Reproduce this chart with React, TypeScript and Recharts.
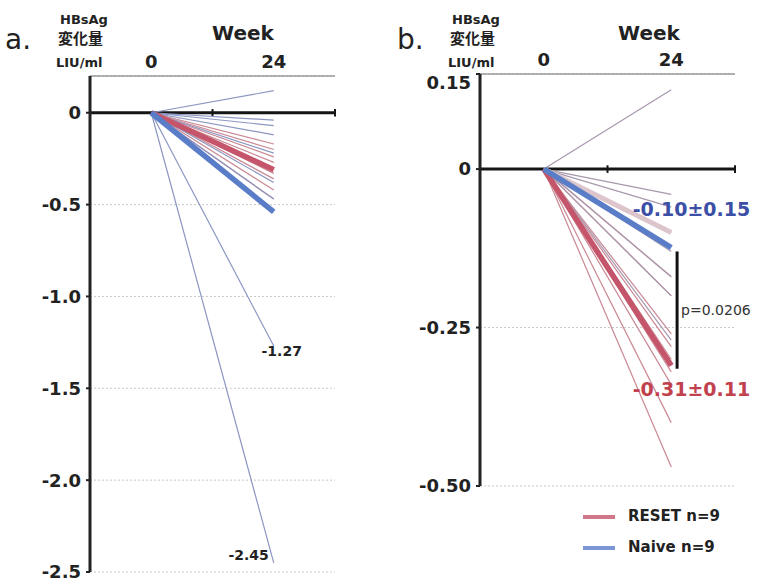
import React from "react";
import {
  LineChart,
  Line,
  XAxis,
  YAxis,
  CartesianGrid,
  ReferenceLine,
  ReferenceDot,
} from "recharts";

// weeks shown on the x axis, change from baseline is 0 at week 0
const weeks = [0, 24];
const baseline = 0;

// panel a: change at week 24 per patient
const aResetEnd = [-0.17, -0.2, -0.24, -0.27, -0.3, -0.33, -0.36, -0.42, -0.47];
const aNaiveEnd = [0.12, -0.04, -0.07, -0.12, -0.22, -0.38, -0.47, -1.27, -2.45];
const aMeanEnd = [-0.31, -0.54]; // RESET, Naive

// panel b
const bResetEnd = [-0.17, -0.2, -0.26, -0.28, -0.3, -0.32, -0.34, -0.4, -0.47];
const bNaiveEnd = [0.125, -0.04, -0.06, -0.1, -0.13, -0.17, -0.2, -0.27, -0.31];
const bMeanEnd = [-0.31, -0.124]; // RESET, Naive
const bShadowEnd = [-0.1];

const aTicks = [0, -0.5, -1.0, -1.5, -2.0, -2.5];
const bTicks = [0.15, 0, -0.25, -0.5];
const weekTicks = [0, 24];
const legendNames = ["RESET n=9", "Naive n=9"];

const FONT = "'DejaVu Sans', sans-serif";
const RED_THIN = "#c98893";
const BLUE_THIN = "#8b96c2";
const GREY_THIN = "#a898ae";
const RED_MEAN = "#c4556a";
const BLUE_MEAN = "#5a7dc8";
const SHADOW = "#dcc6cb";

type Spec = { key: string; color: string; width: number; end: number };

const makeSpecs = (
  reset: number[],
  naive: number[],
  means: number[],
  naiveColor: string,
  shadow: number[] = []
): Spec[] => [
  ...reset.map((v, i) => ({ key: `r${i}`, color: RED_THIN, width: 1.2, end: v })),
  ...naive.map((v, i) => ({ key: `n${i}`, color: naiveColor, width: 1.2, end: v })),
  ...shadow.map((v, i) => ({ key: `s${i}`, color: SHADOW, width: 5, end: v })),
  { key: "mr", color: RED_MEAN, width: 5.5, end: means[0] },
  { key: "mn", color: BLUE_MEAN, width: 5.5, end: means[1] },
];

const makeRows = (specs: Spec[]) =>
  weeks.map((w, i) => {
    const row: Record<string, number> = { week: w };
    specs.forEach((s) => {
      row[s.key] = i === 0 ? baseline : s.end;
    });
    return row;
  });

const aSpecs = makeSpecs(aResetEnd, aNaiveEnd, aMeanEnd, BLUE_THIN);
const bSpecs = makeSpecs(bResetEnd, bNaiveEnd, bMeanEnd, GREY_THIN, bShadowEnd);
const aRows = makeRows(aSpecs);
const bRows = makeRows(bSpecs);

const tickStyle = { fontSize: 18, fontWeight: 700, fill: "#222", fontFamily: FONT };

// y tick for panel b: the top label sits just under the top rule
const BTick = (props: any) => {
  const { x, y, payload } = props;
  const v = payload.value as number;
  const label = v === 0 ? "0" : v.toFixed(2);
  return (
    <text
      x={x}
      y={y + (v === bTicks[0] ? 9 : 0)}
      dy="0.355em"
      textAnchor="end"
      {...tickStyle}
    >
      {label}
    </text>
  );
};

const txt = (extra: React.CSSProperties): React.CSSProperties => ({
  position: "absolute",
  fontFamily: FONT,
  color: "#222",
  whiteSpace: "nowrap",
  lineHeight: 1,
  ...extra,
});

const Header = ({ left, letter }: { left: number; letter: string }) => (
  <>
    <div style={txt({ left: left + 5, top: 26, fontSize: 28 })}>{letter}</div>
    <div style={txt({ left: left + 60, top: 13, fontSize: 13, fontWeight: 700 })}>HBsAg</div>
    <div
      style={txt({
        left: left + 58,
        top: 30,
        fontSize: 15,
        fontWeight: 700,
        fontFamily: "'Noto Sans CJK JP', sans-serif",
      })}
    >
      変化量
    </div>
    <div style={txt({ left: left + 56, top: 56, fontSize: 13, fontWeight: 700 })}>LIU/ml</div>
  </>
);

const App = () => {
  return (
    <div
      style={{
        position: "absolute",
        left: 0,
        top: 0,
        width: 757,
        height: 581,
        background: "#fff",
        overflow: "hidden",
      }}
    >
      {/* panel a */}
      <div style={{ position: "absolute", left: 0, top: 0 }}>
        <LineChart
          width={380}
          height={581}
          data={aRows}
          margin={{ top: 46, right: 45, left: 0, bottom: 9 }}
        >
          <CartesianGrid vertical={false} stroke="#c8c8c8" strokeDasharray="2 2" />
          <XAxis
            dataKey="week"
            type="number"
            orientation="top"
            domain={[-12, 36]}
            ticks={weekTicks}
            height={30}
            tickLine={false}
            axisLine={{ stroke: "#9a9a9a", strokeWidth: 1.5 }}
            tick={tickStyle}
            allowDataOverflow
          />
          <YAxis
            type="number"
            width={90}
            domain={[-2.5, 0.2]}
            ticks={aTicks}
            interval={0}
            tickSize={4}
            tickMargin={5}
            tickFormatter={(v: number) => (v === 0 ? "0" : v.toFixed(1))}
            axisLine={{ stroke: "#222", strokeWidth: 3 }}
            tickLine={{ stroke: "#222", strokeWidth: 2 }}
            tick={tickStyle}
            allowDataOverflow
          />
          <ReferenceLine y={0} stroke="#151515" strokeWidth={3} />
          <ReferenceLine
            segment={[{ x: 12, y: 0.02 }, { x: 12, y: -0.02 }]}
            stroke="#151515"
            strokeWidth={2}
          />
          <ReferenceLine
            segment={[{ x: 36, y: 0.02 }, { x: 36, y: -0.02 }]}
            stroke="#151515"
            strokeWidth={2}
          />
          {aSpecs.map((s) => (
            <Line
              key={s.key}
              dataKey={s.key}
              type="linear"
              stroke={s.color}
              strokeWidth={s.width}
              dot={false}
              activeDot={false}
              isAnimationActive={false}
            />
          ))}
          <ReferenceDot
            x={24}
            y={aNaiveEnd[7]}
            r={0}
            label={{
              value: aNaiveEnd[7].toFixed(2),
              position: "bottom",
              offset: 0,
              dx: 8,
              fontSize: 14,
              fontWeight: 700,
              fill: "#222",
              fontFamily: FONT,
            }}
          />
          <ReferenceDot
            x={24}
            y={aNaiveEnd[8]}
            r={0}
            label={{
              value: aNaiveEnd[8].toFixed(2),
              position: "left",
              offset: 5,
              dy: -8,
              fontSize: 14,
              fontWeight: 700,
              fill: "#222",
              fontFamily: FONT,
            }}
          />
        </LineChart>
      </div>

      {/* panel b */}
      <div style={{ position: "absolute", left: 390, top: 0 }}>
        <LineChart
          width={367}
          height={581}
          data={bRows}
          margin={{ top: 44, right: 22, left: 0, bottom: 95 }}
        >
          <CartesianGrid vertical={false} stroke="#c8c8c8" strokeDasharray="2 2" />
          <XAxis
            dataKey="week"
            type="number"
            orientation="top"
            domain={[-12, 36]}
            ticks={weekTicks}
            height={30}
            tickLine={false}
            axisLine={{ stroke: "#9a9a9a", strokeWidth: 1.5 }}
            tick={tickStyle}
            allowDataOverflow
          />
          <YAxis
            type="number"
            width={90}
            domain={[-0.5, 0.15]}
            ticks={bTicks}
            interval={0}
            tickSize={4}
            tickMargin={5}
            axisLine={{ stroke: "#222", strokeWidth: 3 }}
            tickLine={{ stroke: "#222", strokeWidth: 2 }}
            tick={<BTick />}
            allowDataOverflow
          />
          <ReferenceLine y={0} stroke="#151515" strokeWidth={3} />
          <ReferenceLine
            segment={[{ x: 12, y: 0.006 }, { x: 12, y: -0.006 }]}
            stroke="#151515"
            strokeWidth={2}
          />
          <ReferenceLine
            segment={[{ x: 36, y: 0.006 }, { x: 36, y: -0.006 }]}
            stroke="#151515"
            strokeWidth={2}
          />
          {bSpecs.map((s) => (
            <Line
              key={s.key}
              dataKey={s.key}
              type="linear"
              stroke={s.color}
              strokeWidth={s.width}
              dot={false}
              activeDot={false}
              isAnimationActive={false}
            />
          ))}
          <ReferenceLine
            segment={[{ x: 25.1, y: -0.13 }, { x: 25.1, y: -0.315 }]}
            stroke="#111"
            strokeWidth={3}
          />
          <ReferenceDot
            x={25.1}
            y={-0.222}
            r={0}
            label={{
              value: "p=0.0206",
              position: "right",
              offset: 4,
              fontSize: 14,
              fill: "#333",
              fontFamily: FONT,
            }}
          />
          <ReferenceDot
            x={27.8}
            y={-0.064}
            r={0}
            label={{
              value: "-0.10±0.15",
              position: "center",
              fontSize: 19,
              fontWeight: 700,
              fill: "#3b4fa6",
              fontFamily: FONT,
            }}
          />
          <ReferenceDot
            x={27.8}
            y={-0.348}
            r={0}
            label={{
              value: "-0.31±0.11",
              position: "center",
              fontSize: 19,
              fontWeight: 700,
              fill: "#c2414f",
              fontFamily: FONT,
            }}
          />
        </LineChart>
      </div>

      <Header left={0} letter="a." />
      <Header left={392} letter="b." />
      <div style={txt({ left: 243, top: 23, fontSize: 20, fontWeight: 700, transform: "translateX(-50%)" })}>
        Week
      </div>
      <div style={txt({ left: 649, top: 23, fontSize: 20, fontWeight: 700, transform: "translateX(-50%)" })}>
        Week
      </div>

      {/* legend */}
      {legendNames.map((name, i) => (
        <div key={name} style={{ position: "absolute", left: 583, top: 508 + i * 31, height: 18 }}>
          <div
            style={{
              position: "absolute",
              left: 0,
              top: 7,
              width: 32,
              height: 4,
              background: i === 0 ? RED_MEAN : BLUE_MEAN,
              opacity: 0.8,
            }}
          />
          <div style={txt({ left: 45, top: 1, fontSize: 15, fontWeight: 700 })}>{name}</div>
        </div>
      ))}
    </div>
  );
};

export default App;
